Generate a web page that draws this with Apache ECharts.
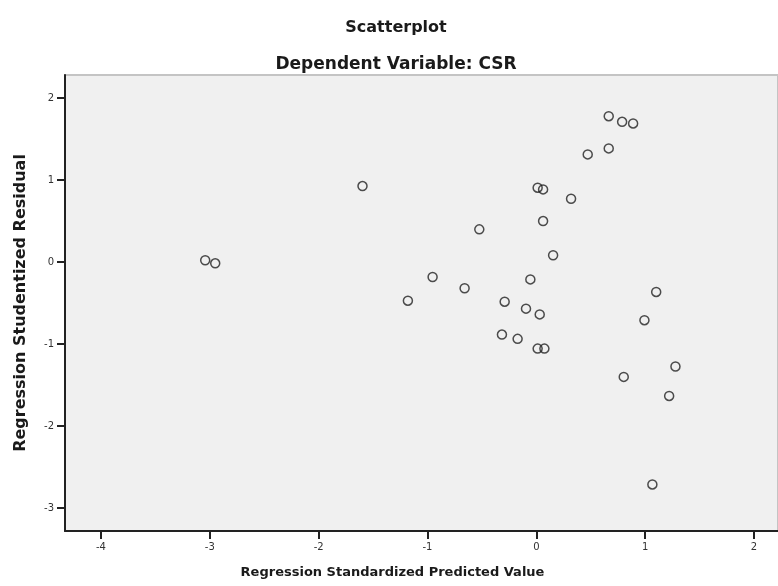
<!DOCTYPE html>
<html>
<head>
<meta charset="utf-8">
<script src="https://cdn.jsdelivr.net/npm/echarts@6/dist/echarts.min.js"></script>
<style>html,body{margin:0;padding:0;background:#fff}#c{width:778px;height:586px}</style>
</head>
<body>
<div id="c"></div>
<script>
// Regression Standardized Predicted Value
const predicted = [0.665, 0.788, 0.889, 0.472, 0.665, -1.597, 0.012, 0.062, 0.319, 0.062,
  -0.524, -3.042, -2.950, 0.154, -0.953, -0.055, -0.659, 1.101, -1.180, -0.291,
  -0.095, 0.031, 0.993, -0.316, -0.172, 0.012, 0.074, 1.278, 0.803, 1.220, 1.066];
// Regression Studentized Residual
const residual = [1.778, 1.709, 1.689, 1.312, 1.385, 0.926, 0.906, 0.885, 0.771, 0.499,
  0.398, 0.021, -0.016, 0.082, -0.183, -0.212, -0.320, -0.365, -0.472, -0.484,
  -0.569, -0.639, -0.710, -0.885, -0.937, -1.056, -1.056, -1.274, -1.401, -1.633, -2.712];
const xTicks = [-4, -3, -2, -1, 0, 1, 2];
const yTicks = [-3, -2, -1, 0, 1, 2];
const titleText = 'Scatterplot';
const subtitleText = 'Dependent Variable: CSR';
const xName = 'Regression Standardized Predicted Value';
const yName = 'Regression Studentized Residual';

const points = predicted.map((x, i) => [x, residual[i]]);
const font = 'DejaVu Sans';
const chart = echarts.init(document.getElementById('c'), null, {renderer: 'canvas'});
chart.setOption({
  animation: false,
  backgroundColor: '#ffffff',
  title: [
    {text: titleText, left: 391, top: 15, textAlign: 'center',
     textStyle: {fontFamily: font, fontSize: 16, fontWeight: 'bold', color: '#1a1a1a'}},
    {text: subtitleText, left: 391, top: 51, textAlign: 'center',
     textStyle: {fontFamily: font, fontSize: 17, fontWeight: 'bold', color: '#1a1a1a'}}
  ],
  grid: {left: 65, top: 75, right: 0, bottom: 55, show: true,
         backgroundColor: '#f0f0f0', borderColor: '#c4c4c4', borderWidth: 2},
  xAxis: {
    type: 'value', min: -4.33, max: 2.22,
    name: xName, nameLocation: 'middle', nameGap: 35,
    nameTextStyle: {fontFamily: font, fontSize: 13, fontWeight: 'bold', color: '#1a1a1a',
                    padding: [0, 58, 0, 0]},
    axisLine: {show: true, onZero: false, lineStyle: {color: '#222', width: 2}},
    axisTick: {show: true, length: 8, customValues: xTicks, lineStyle: {color: '#222', width: 2}},
    axisLabel: {customValues: xTicks, fontFamily: font, fontSize: 10, color: '#333', margin: 11},
    splitLine: {show: false}
  },
  yAxis: {
    type: 'value', min: -3.28, max: 2.28,
    name: yName, nameLocation: 'middle', nameGap: 36,
    nameTextStyle: {fontFamily: font, fontSize: 16, fontWeight: 'bold', color: '#1a1a1a'},
    axisLine: {show: true, onZero: false, lineStyle: {color: '#222', width: 2}},
    axisTick: {show: true, length: 8, customValues: yTicks, lineStyle: {color: '#222', width: 2}},
    axisLabel: {customValues: yTicks, fontFamily: font, fontSize: 10, color: '#333', margin: 11},
    splitLine: {show: false}
  },
  series: [{
    type: 'scatter', data: points, symbol: 'circle', symbolSize: 9,
    itemStyle: {color: 'rgba(0,0,0,0)', borderColor: '#222', borderWidth: 1.5}
  }]
});
</script>
</body>
</html>
